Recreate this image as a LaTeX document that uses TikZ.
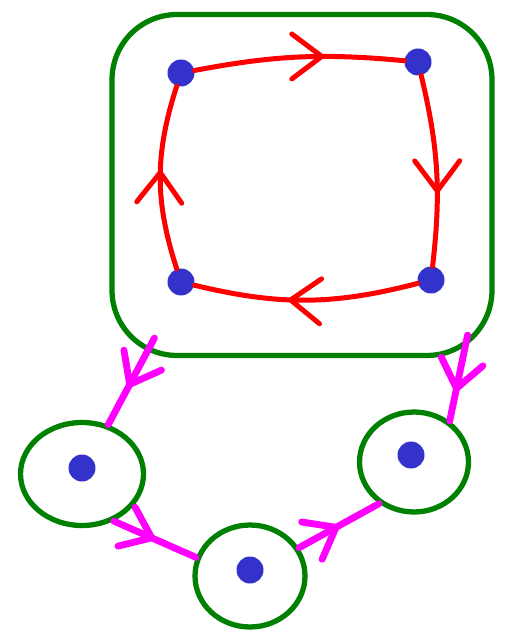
\documentclass[tikz,border=0pt]{standalone}
\usetikzlibrary{shapes.geometric,calc,arrows.meta,decorations.markings}

\definecolor{ringgreen}{RGB}{0,128,0}
\definecolor{dotblue}{RGB}{51,51,204}
\definecolor{loopred}{RGB}{255,0,0}
\definecolor{linkmag}{RGB}{255,0,255}

\tikzset{
    dot/.style={circle, fill=dotblue, inner sep=0pt, minimum size=0.54cm},
    ring/.style={ellipse, draw=ringgreen, line width=3pt, inner sep=0pt},
    redarc/.style={loopred, line width=2.85pt, line cap=round,
        decoration={markings, mark=at position #1 with {\arrow{Straight Barb[length=0.6cm,width=0.9cm,round]}}},
        postaction={decorate}},
    maglink/.style={linkmag, line width=3.9pt, line cap=round,
        decoration={markings, mark=at position #1 with {\arrow{Straight Barb[length=0.55cm,width=0.85cm,round]}}},
        postaction={decorate}}
}

\begin{document}
\begin{tikzpicture}[x=0.02cm, y=0.02cm]
    \useasboundingbox (0,0) rectangle (507,-638);

    % 大框
    \node[draw=ringgreen, line width=3pt, rounded corners=1.3cm,
          minimum width=7.6cm, minimum height=6.82cm] (box) at (302,-185) {};

    % 框内四个点
    \foreach \pos/\idx in {{(181,-73)}/1, {(418,-62)}/2, {(431,-280)}/3, {(181,-282)}/4} {
        \node[dot] (N\idx) at \pos {};
    }

    % 红色回路
    \draw[redarc=0.62] (N1) to[bend left=8] (N2);
    \draw[redarc=0.62] (N2) to[bend left=10] (N3);
    \draw[redarc=0.58] (N3) to[bend left=14] (N4);
    \draw[redarc=0.54] (N4) to[bend left=18] (N1);

    % 三个小圈
    \node[ring, minimum width=2.46cm, minimum height=2.06cm] (L) at (82,-474) {};
    \node[ring, minimum width=2.2cm, minimum height=2.04cm] (B) at (250,-576) {};
    \node[ring, minimum width=2.18cm, minimum height=2.0cm] (R) at (414,-462) {};
    \node[dot] (Ld) at (82,-468) {};
    \node[dot] (Bd) at (250,-570) {};
    \node[dot] (Rd) at (411,-455) {};

    % 品红连线
    \coordinate (Sl) at ($(box.south west)+(45,20)$);
    \coordinate (Sr) at ($(box.south east)+(-27,23)$);
    \draw[maglink=0.57] (Sl) -- (L.62);
    \draw[maglink=0.5] (L.-56) -- (B.161);
    \draw[maglink=0.5] (B.30) -- (R.230);
    \draw[maglink=0.66] (Sr) -- (R.49);
\end{tikzpicture}
\end{document}
